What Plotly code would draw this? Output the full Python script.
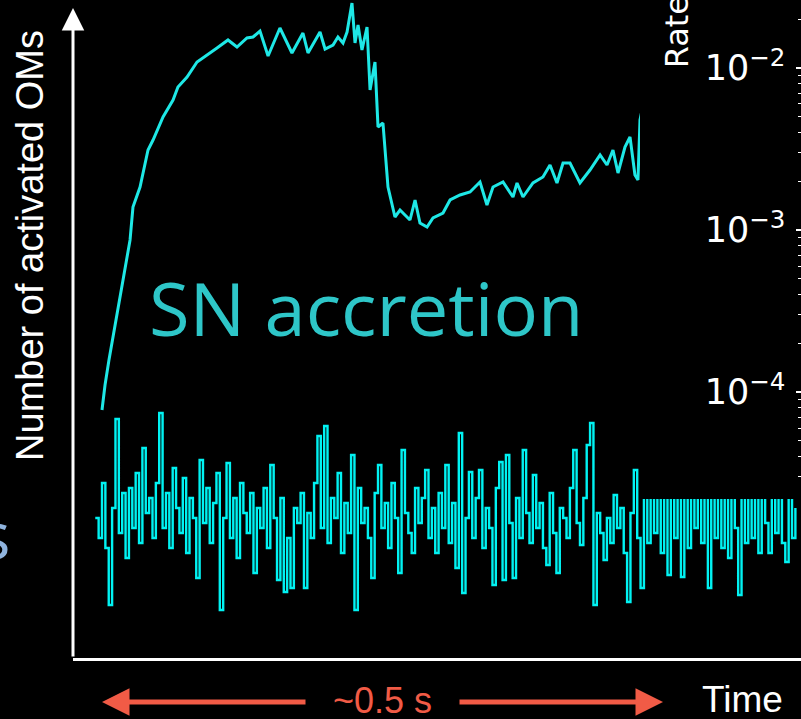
import numpy as np
import plotly.graph_objects as go

# ---- SN accretion signal: time [ms] vs number of activated OMs ----
acc_t = [0.0, 2.7, 6.2, 14.3, 19.6, 25.0, 27.6, 33.9, 41.0, 45.5, 54.4, 63.3, 67.7,
         75.8, 84.7, 90.0, 102.5, 112.3, 120.3, 129.2, 134.6, 140.8, 148.0, 158.6,
         169.3, 179.1, 183.6, 194.3, 198.8, 205.9, 210.3, 214.8, 218.4, 222.8, 225.5,
         228.2, 231.7, 236.2, 238.9, 243.3, 246.0, 250.4, 254.9, 261.1, 265.6, 274.5,
         279.0, 283.4, 289.7, 295.0, 303.9, 310.2, 319.1, 328.0, 336.9, 343.1, 348.5,
         357.4, 366.3, 369.9, 375.2, 384.1, 393.0, 399.3, 405.5, 410.9, 417.1, 426.0,
         434.9, 443.9, 450.1, 455.4, 459.9, 466.1, 470.6, 475.0, 477.7, 479.5, 483.1]
acc_n = [248, 273, 298, 348, 383, 418, 451, 471, 508, 518, 541, 558, 571,
         581, 596, 600, 610, 618, 611, 620, 621, 627, 602, 630,
         605, 625, 605, 626, 609, 613, 621, 615, 626, 655, 615,
         633, 608, 631, 568, 596, 531, 535, 471, 441, 448, 438,
         458, 435, 431, 440, 445, 458, 463, 466, 476, 453, 471,
         476, 461, 475, 461, 475, 481, 493, 475, 495, 495, 475,
         488, 503, 493, 508, 485, 511, 521, 483, 478, 538, 558]

# ---- background (no SN) counts, one value per 3 ms bin starting at -6 ms ----
bg_t0 = -6.0
bg_dt = 3.0
bg_n = [140, 120, 175, 110, 53, 150, 239, 125, 165, 100,
        170, 130, 185, 115, 210, 145, 160, 120, 175, 245,
        130, 165, 110, 190, 150, 125, 180, 105, 160, 140,
        80, 198, 135, 170, 115, 155, 185, 48, 140, 195,
        120, 160, 100, 175, 145, 125, 165, 85, 150, 130,
        170, 110, 193, 140, 78, 160, 66, 120, 70, 150,
        135, 165, 70, 145, 120, 175, 222, 130, 232, 115,
        160, 140, 185, 105, 155, 125, 203, 48, 170, 135,
        150, 120, 80, 165, 193, 130, 155, 110, 175, 140,
        85, 208, 145, 125, 105, 170, 135, 160, 188, 120,
        150, 105, 165, 130, 193, 115, 155, 90, 225, 65,
        140, 186, 120, 160, 188, 110, 150, 130, 73, 170,
        196, 78, 203, 135, 80, 160, 120, 208, 145, 115,
        183, 130, 155, 110, 93, 165, 125, 85, 150, 140,
        120, 170, 208, 135, 113, 160, 213, 235, 53, 145,
        125, 98, 140, 115, 163, 130, 150, 105, 56, 145,
        188, 120, 70, 175, 115, 180, 125, 170, 105, 175,
        83, 170, 120, 180, 81, 175, 110, 170, 130, 180,
        115, 175, 70, 170, 120, 180, 110, 165, 100, 175,
        130, 63, 175, 115, 170, 120, 180, 105, 170, 135,
        105, 175, 125, 170, 115, 96, 175, 120, 150]
bg_t = bg_t0 + bg_dt * np.arange(len(bg_n))

# ---- rate panel (log scale) ----
rate_range_log = [-4.660, -1.580]

# window of ~0.5 s marked under the time axis
window_ms = [0.0, 500.0]

# Time axis is split: the left part holds the full signal, the right strip
# (under the rate panel) only shows the lower part of the count scale.
T_LEFT = [-25.85, 479.5]
T_RIGHT = [479.5, 623.0]
N_RANGE = [0, 658]
N_LOW = [0, 159]

X_SPLIT = 640 / 801
Y_BASE = 61 / 719
Y_PANEL = 1 - 499 / 719

CYAN = "#1ee8e6"
CYAN_NOISE = "#00f2f2"
TEAL = "#2ec6c8"
RED = "#f15b46"

fig = go.Figure()

for xa, ya in (("x", "y"), ("x4", "y4")):
    fig.add_trace(go.Scatter(
        x=bg_t, y=bg_n, mode="lines", line=dict(color=CYAN_NOISE, width=2.4, shape="hv"),
        hoverinfo="skip", showlegend=False, xaxis=xa, yaxis=ya))

fig.add_trace(go.Scatter(
    x=acc_t, y=acc_n, mode="lines", line=dict(color=CYAN, width=3),
    hoverinfo="skip", showlegend=False, xaxis="x", yaxis="y"))

# rate axis subplot (no data drawn, axis only)
fig.add_trace(go.Scatter(x=[None], y=[None], mode="lines", hoverinfo="skip",
                         showlegend=False, xaxis="x3", yaxis="y3"))

CENTER = dict(xanchor="center", yanchor="middle")

annotations = [
    # y axis with arrow
    dict(x=T_LEFT[0], y=650, xref="x", yref="y", ax=T_LEFT[0], ay=0,
         axref="x", ayref="y", text="", showarrow=True, arrowhead=2,
         arrowsize=1.5, arrowwidth=3, arrowcolor="white"),
    # ~0.5 s window arrows
    dict(x=window_ms[0], y=0.0236, xref="x", yref="paper", ax=205, ay=0,
         text="", showarrow=True, arrowhead=2, arrowsize=1.1,
         arrowwidth=5, arrowcolor=RED),
    dict(x=window_ms[1], y=0.0236, xref="x4", yref="paper", ax=-205, ay=0,
         text="", showarrow=True, arrowhead=2, arrowsize=1.1,
         arrowwidth=5, arrowcolor=RED),
    dict(x=sum(window_ms) / 2, y=0.0264, xref="x", yref="paper", text="~0.5 s",
         showarrow=False, font=dict(family="Liberation Sans", size=36, color=RED),
         **CENTER),
    dict(x=742 / 801, y=0.0278, xref="paper", yref="paper", text="Time",
         showarrow=False, font=dict(family="Liberation Sans", size=37, color="white"),
         **CENTER),
    dict(x=30 / 801, y=0.658, xref="paper", yref="paper", text="Number of activated OMs",
         textangle=-90, showarrow=False,
         font=dict(family="Liberation Sans", size=38, color="white"), **CENTER),
    dict(x=366 / 801, y=0.573, xref="paper", yref="paper", text="SN accretion",
         showarrow=False, font=dict(family="Open Sans", size=74, color=TEAL), **CENTER),
    dict(x=12 / 801, y=0.259, xref="paper", yref="paper", text="s", xanchor="right",
         yanchor="middle", showarrow=False,
         font=dict(family="Open Sans", size=66, color="#8fb3dd")),
    dict(x=677 / 801, y=0.955, xref="paper", yref="paper", text="Rate",
         textangle=-90, showarrow=False,
         font=dict(family="DejaVu Sans", size=32, color="white"), **CENTER),
]

hidden = dict(showline=False, showticklabels=False, ticks="", showgrid=False,
              zeroline=False)
time_line = dict(showline=True, linecolor="white", linewidth=3, showticklabels=False,
                 ticks="", showgrid=False, zeroline=False)

fig.update_layout(
    width=801, height=719,
    margin=dict(l=0, r=0, t=0, b=0),
    paper_bgcolor="black", plot_bgcolor="black",
    xaxis=dict(domain=[73 / 801, X_SPLIT], range=T_LEFT, anchor="y", **time_line),
    yaxis=dict(domain=[Y_BASE, 1], range=N_RANGE, anchor="x", **hidden),
    xaxis4=dict(domain=[X_SPLIT, 1], range=T_RIGHT, anchor="y4", **time_line),
    yaxis4=dict(domain=[Y_BASE, Y_PANEL], range=N_LOW, anchor="x4", **hidden),
    xaxis3=dict(domain=[X_SPLIT, 1], anchor="y3", range=[0, 1], **hidden),
    yaxis3=dict(domain=[Y_PANEL, 1], anchor="free", position=1.0, side="left",
                type="log", range=rate_range_log, dtick=1, exponentformat="power",
                showexponent="all", ticks="outside", ticklen=5, tickwidth=1.5,
                tickcolor="white", showline=False, showgrid=False, zeroline=False,
                tickfont=dict(family="DejaVu Sans", size=28, color="white"),
                ticklabelstandoff=5,
                minor=dict(ticks="outside", ticklen=3, tickwidth=1, tickcolor="white",
                           showgrid=False)),
    annotations=annotations,
    showlegend=False,
)

fig.write_html("out.html")
